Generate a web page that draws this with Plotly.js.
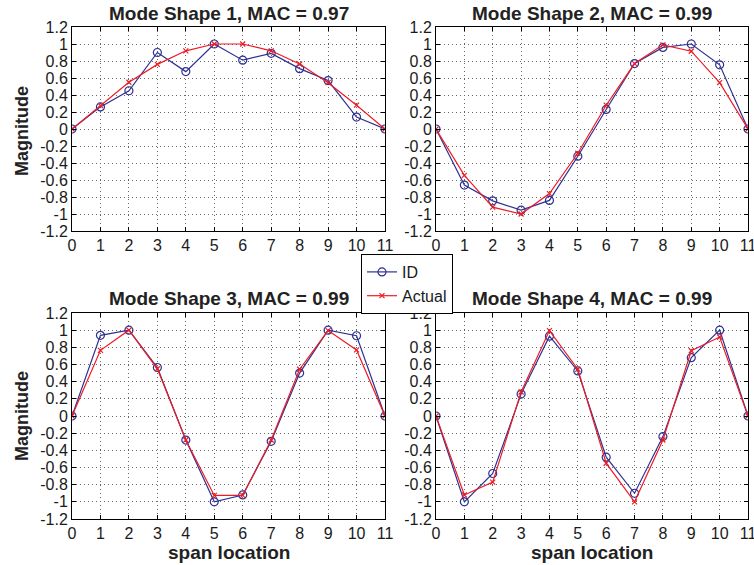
<!DOCTYPE html>
<html>
<head>
<meta charset="utf-8">
<script src="https://cdn.plot.ly/plotly-3.0.1.min.js"></script>
<style>html,body{margin:0;padding:0;background:#fff;}#chart{width:754px;height:565px;}</style>
</head>
<body>
<div id="chart"></div>
<script>
// Data
const spanLocations = [0, 1, 2, 3, 4, 5, 6, 7, 8, 9, 10, 11];
const mode1ID     = [0, 0.26, 0.45, 0.90, 0.675, 1.0, 0.81, 0.89, 0.71, 0.57, 0.14, 0];
const mode1Actual = [0, 0.275, 0.55, 0.76, 0.92, 1.0, 1.0, 0.92, 0.765, 0.545, 0.28, 0];
const mode2ID     = [0, -0.66, -0.845, -0.955, -0.84, -0.32, 0.23, 0.77, 0.96, 1.0, 0.755, 0];
const mode2Actual = [0, -0.545, -0.92, -1.0, -0.76, -0.285, 0.28, 0.77, 0.99, 0.915, 0.545, 0];
const mode3ID     = [0, 0.94, 1.0, 0.565, -0.28, -1.0, -0.92, -0.295, 0.50, 1.0, 0.935, 0];
const mode3Actual = [0, 0.765, 1.0, 0.55, -0.28, -0.925, -0.925, -0.28, 0.545, 0.995, 0.77, 0];
const mode4ID     = [0, -1.0, -0.67, 0.255, 0.93, 0.525, -0.48, -0.90, -0.24, 0.68, 1.0, 0];
const mode4Actual = [0, -0.92, -0.77, 0.28, 0.995, 0.545, -0.55, -1.0, -0.28, 0.76, 0.92, 0];
const titles = ["Mode Shape 1, MAC = 0.97", "Mode Shape 2, MAC = 0.99", "Mode Shape 3, MAC = 0.99", "Mode Shape 4, MAC = 0.99"];
const yTickVals = [-1.2, -1, -0.8, -0.6, -0.4, -0.2, 0, 0.2, 0.4, 0.6, 0.8, 1, 1.2];
const yTickText = ["-1.2", "-1", "-0.8", "-0.6", "-0.4", "-0.2", "0", "0.2", "0.4", "0.6", "0.8", "1", "1.2"];
const xTickText = ["0", "1", "2", "3", "4", "5", "6", "7", "8", "9", "10", "11"];

const BLUE = '#2e3192';
const RED = '#ed1c24';
const FONT = 'Liberation Sans, Arial, sans-serif';
const TXT = '#1a1a1a';

const idSets = [mode1ID, mode2ID, mode3ID, mode4ID];
const actSets = [mode1Actual, mode2Actual, mode3Actual, mode4Actual];
const axisSuffix = ['', '2', '3', '4'];

const traces = [];
for (let i = 0; i < 4; i++) {
  traces.push({
    x: spanLocations, y: idSets[i], name: 'ID', type: 'scatter', mode: 'lines+markers',
    xaxis: 'x' + axisSuffix[i], yaxis: 'y' + axisSuffix[i], showlegend: i === 0, legendrank: 1,
    line: {color: BLUE, width: 1.2},
    marker: {symbol: 'circle-open', size: 8, color: BLUE, line: {width: 1.2, color: BLUE}}
  });
  traces.push({
    x: spanLocations, y: actSets[i], name: 'Actual', type: 'scatter', mode: 'lines+markers',
    xaxis: 'x' + axisSuffix[i], yaxis: 'y' + axisSuffix[i], showlegend: i === 0, legendrank: 2,
    line: {color: RED, width: 1.2},
    marker: {symbol: 'x-thin-open', size: 5, color: RED, line: {width: 1.2, color: RED}}
  });
}

const xDomains = [[72/754, 385/754], [436/754, 748/754]];
const yDomains = [[1 - 231/565, 1 - 27/565], [1 - 519/565, 1 - 313/565]];

function xAxis(dom, anchor) {
  return {
    domain: dom, anchor: anchor, range: [0, 11], tickvals: spanLocations, ticktext: xTickText,
    showgrid: true, gridcolor: '#666', griddash: '1px,3px', gridwidth: 1,
    showline: true, linecolor: '#000', linewidth: 1, mirror: 'ticks',
    ticks: 'inside', ticklen: 4, tickcolor: '#000', zeroline: false, ticklabeloverflow: 'allow',
    tickfont: {family: FONT, size: 16, color: TXT}, fixedrange: true
  };
}
function yAxis(dom, anchor) {
  return {
    domain: dom, anchor: anchor, range: [-1.2, 1.2], tickvals: yTickVals, ticktext: yTickText,
    showgrid: true, gridcolor: '#666', griddash: '1px,3px', gridwidth: 1,
    showline: true, linecolor: '#000', linewidth: 1, mirror: 'ticks',
    ticks: 'inside', ticklen: 4, tickcolor: '#000', zeroline: false, ticklabeloverflow: 'allow',
    tickfont: {family: FONT, size: 16, color: TXT}, fixedrange: true
  };
}

const annotations = [];
const titleCenters = [
  [(72+385)/2/754, 1 - 14/565], [(436+748)/2/754, 1 - 14/565],
  [(72+385)/2/754, 1 - 298/565], [(436+748)/2/754, 1 - 298/565]
];
for (let i = 0; i < 4; i++) {
  annotations.push({
    text: '<b>' + titles[i] + '</b>', xref: 'paper', yref: 'paper',
    x: titleCenters[i][0], y: titleCenters[i][1], xanchor: 'center', yanchor: 'middle',
    showarrow: false, font: {family: FONT, size: 19, color: '#222'}
  });
}
annotations.push({text: '<b>Magnitude</b>', xref: 'paper', yref: 'paper', x: 22/754, y: 1 - 131/565,
  xanchor: 'center', yanchor: 'middle', textangle: -90, showarrow: false, font: {family: FONT, size: 18, color: '#222'}});
annotations.push({text: '<b>Magnitude</b>', xref: 'paper', yref: 'paper', x: 22/754, y: 1 - 416/565,
  xanchor: 'center', yanchor: 'middle', textangle: -90, showarrow: false, font: {family: FONT, size: 18, color: '#222'}});
annotations.push({text: '<b>span location</b>', xref: 'paper', yref: 'paper', x: (72+385)/2/754, y: 1 - 552/565,
  xanchor: 'center', yanchor: 'middle', showarrow: false, font: {family: FONT, size: 19, color: '#222'}});
annotations.push({text: '<b>span location</b>', xref: 'paper', yref: 'paper', x: (436+748)/2/754, y: 1 - 552/565,
  xanchor: 'center', yanchor: 'middle', showarrow: false, font: {family: FONT, size: 19, color: '#222'}});

const layout = {
  width: 754, height: 565, margin: {l: 0, r: 0, t: 0, b: 0},
  paper_bgcolor: '#fff', plot_bgcolor: '#fff',
  font: {family: FONT, size: 16, color: TXT},
  xaxis: xAxis(xDomains[0], 'y'), yaxis: yAxis(yDomains[0], 'x'),
  xaxis2: xAxis(xDomains[1], 'y2'), yaxis2: yAxis(yDomains[0], 'x2'),
  xaxis3: xAxis(xDomains[0], 'y3'), yaxis3: yAxis(yDomains[1], 'x3'),
  xaxis4: xAxis(xDomains[1], 'y4'), yaxis4: yAxis(yDomains[1], 'x4'),
  showlegend: true,
  legend: {x: 361/754, y: 1 - 254/565, xanchor: 'left', yanchor: 'top',
    bgcolor: '#fff', bordercolor: '#000', borderwidth: 1,
    font: {family: FONT, size: 16, color: TXT}, tracegroupgap: 0, itemwidth: 30},
  annotations: annotations
};

Plotly.newPlot('chart', traces, layout, {displayModeBar: false, staticPlot: true});
</script>
</body>
</html>
